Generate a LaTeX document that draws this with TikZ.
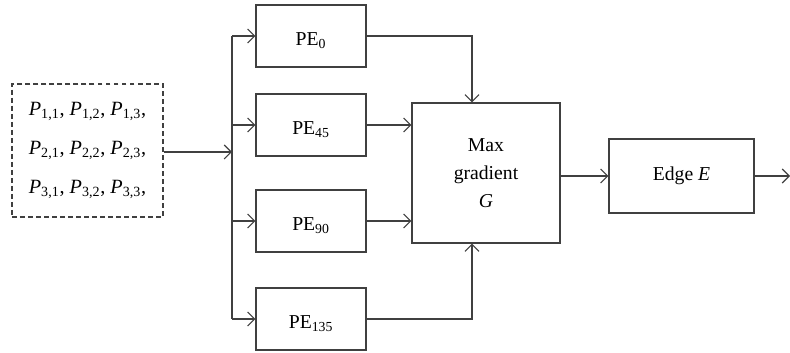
\documentclass[tikz,border=0pt]{standalone}
\usepackage{fontspec}
\setmainfont{Liberation Serif}
\usetikzlibrary{arrows.meta}

\begin{document}
\begin{tikzpicture}[
    x = 0.025cm,
    y = -0.025cm,
    line width = 0.8pt,
    draw = black!75,
    >={Straight Barb[length=5pt,width=10pt]},
    font = \fontsize{14}{17}\selectfont,
    block/.style = {
      draw = black!75,
      rectangle,
      align = center,
      inner sep = 0pt
    },
    pebox/.style = {
      block,
      text height = 14pt,
      text depth = 0pt,
      minimum width = 2.75cm,
      minimum height = 1.55cm
    }
  ]
  \useasboundingbox (0,0) rectangle (790,353);

  % input pixels
  \node[block, dash pattern = on 3.5pt off 2.2pt, minimum width = 3.775cm, minimum height = 3.325cm,
        font = \fontsize{14.4}{28}\selectfont] (pix) at (87.5,150.5)
    {\textit{P}\textsubscript{1,1}, \textit{P}\textsubscript{1,2}, \textit{P}\textsubscript{1,3},\\
     \textit{P}\textsubscript{2,1}, \textit{P}\textsubscript{2,2}, \textit{P}\textsubscript{2,3},\\
     \textit{P}\textsubscript{3,1}, \textit{P}\textsubscript{3,2}, \textit{P}\textsubscript{3,3},};

  % direction filters
  \node[pebox] (pe0)   at (311,36)  {PE\textsubscript{0}};
  \node[pebox] (pe45)  at (311,125) {PE\textsubscript{45}};
  \node[pebox] (pe90)  at (311,221) {PE\textsubscript{90}};
  \node[pebox] (pe135) at (311,319) {PE\textsubscript{135}};

  \node[block, minimum width = 3.7cm, minimum height = 3.5cm,
        font = \fontsize{14}{20}\selectfont] (maxg) at (486,173)
    {Max\\gradient\\\textit{G}};
  \node[block, minimum width = 3.625cm, minimum height = 1.85cm] (edge) at (681.5,176)
    {Edge \textit{E}};

  \coordinate (split) at (232,0);
  \coordinate (out) at (790,0);
  \coordinate (drop) at (472,0);

  % fan out
  \draw[->] (pix.east |- 0,152) -- (split |- 0,152);
  \draw (split |- pe0) -- (split |- pe135);
  \foreach \pe in {pe0,pe45,pe90,pe135}
    \draw[->] (split |- \pe) -- (\pe.west);

  % into max gradient
  \draw[->] (pe0.east) -| (drop |- maxg.north);
  \draw[->] (pe45.east) -- (maxg.west |- pe45);
  \draw[->] (pe90.east) -- (maxg.west |- pe90);
  \draw[->] (pe135.east) -| (drop |- maxg.south);

  \draw[->] (maxg.east |- edge) -- (edge.west);
  \draw[->] (edge.east) -- (out |- edge);
\end{tikzpicture}
\end{document}
